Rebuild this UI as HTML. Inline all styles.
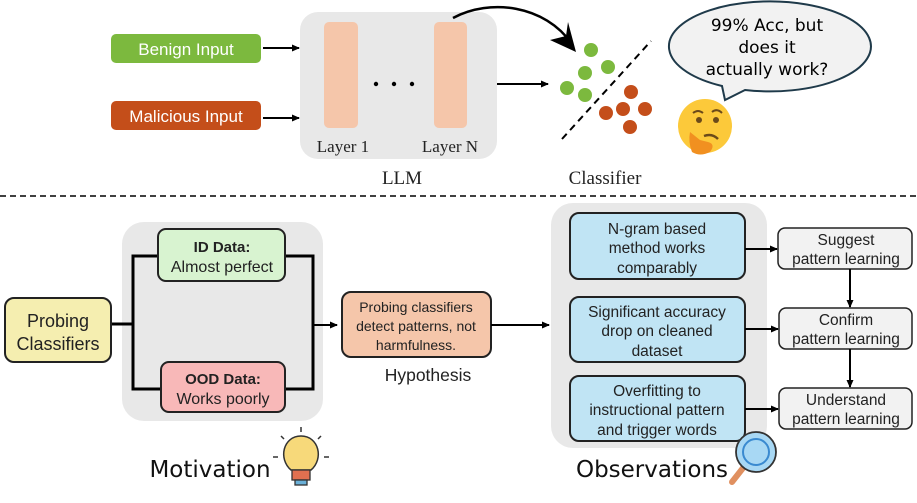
<!DOCTYPE html>
<html><head><meta charset="utf-8"><style>
html,body{margin:0;padding:0;background:#fff;}
svg{display:block;}
.s{font-family:"Liberation Sans",sans-serif;}
.r{font-family:"Liberation Serif",serif;}
.c{font-family:"DejaVu Sans",sans-serif;}
</style></head><body>
<svg width="917" height="503" viewBox="0 0 917 503" xmlns="http://www.w3.org/2000/svg">
<defs>
<marker id="a" markerWidth="8" markerHeight="8" refX="7" refY="4" orient="auto" markerUnits="userSpaceOnUse"><path d="M0,0.5 L8,4 L0,7.5 Z" fill="#000"/></marker>
</defs>
<!-- top -->
<rect x="111" y="34" width="150" height="29" rx="5" fill="#7cb93e"/>
<text x="186" y="55" class="s" font-size="17" fill="#fff" text-anchor="middle">Benign Input</text>
<rect x="111" y="101" width="150" height="29" rx="5" fill="#c44e1a"/>
<text x="186" y="122" class="s" font-size="17" fill="#fff" text-anchor="middle">Malicious Input</text>
<line x1="263" y1="48" x2="299" y2="48" stroke="#000" stroke-width="2" marker-end="url(#a)"/>
<line x1="263" y1="118" x2="299" y2="118" stroke="#000" stroke-width="2" marker-end="url(#a)"/>
<rect x="300" y="12" width="197" height="147" rx="18" fill="#e8e8e8"/>
<rect x="324" y="22" width="34" height="106" rx="5" fill="#f5c6aa"/>
<rect x="434" y="22" width="33" height="106" rx="5" fill="#f5c6aa"/>
<circle cx="376" cy="84" r="2.2" fill="#000"/><circle cx="394" cy="84" r="2.2" fill="#000"/><circle cx="412" cy="84" r="2.2" fill="#000"/>
<text x="343" y="152" class="r" font-size="17" text-anchor="middle" fill="#222">Layer 1</text>
<text x="450" y="152" class="r" font-size="17" text-anchor="middle" fill="#222">Layer N</text>
<text x="402" y="184" class="r" font-size="19" text-anchor="middle" fill="#222">LLM</text>
<path d="M453,18 C490,-2 545,5 572,44" fill="none" stroke="#000" stroke-width="2.5"/>
<path d="M576,52 L550,40 L566,36 L568,22 Z" fill="#000"/>
<line x1="497" y1="84" x2="548" y2="84" stroke="#000" stroke-width="2" marker-end="url(#a)"/>
<g fill="#7cb93e"><circle cx="591" cy="50" r="7"/><circle cx="608" cy="67" r="7"/><circle cx="585" cy="73" r="7"/><circle cx="567" cy="88" r="7"/><circle cx="585" cy="95" r="7"/></g>
<g fill="#c44e1a"><circle cx="631" cy="92" r="7"/><circle cx="623" cy="109" r="7"/><circle cx="606" cy="113" r="7"/><circle cx="645" cy="109" r="7"/><circle cx="630" cy="127" r="7"/></g>
<line x1="562" y1="139" x2="651" y2="41" stroke="#000" stroke-width="2" stroke-dasharray="7,5"/>
<text x="605" y="184" class="r" font-size="19" text-anchor="middle" fill="#222">Classifier</text>
<path d="M725,100 L722,86 A101,45 0 1 1 745,90 Z" fill="#f2f2f2" stroke="#1f3a4a" stroke-width="2"/>
<text x="767" y="31" class="c" font-size="17" text-anchor="middle">99% Acc, but</text>
<text x="767" y="53" class="c" font-size="17" text-anchor="middle">does it</text>
<text x="767" y="75" class="c" font-size="17" text-anchor="middle">actually work?</text>
<circle cx="705" cy="126" r="27" fill="#fcc93a"/>
<path d="M693,113 q5,-4 10,0 M712,112 q5,-4 10,1" stroke="#6b4a1a" stroke-width="2" fill="none"/>
<circle cx="699" cy="120" r="3" fill="#6b4a1a"/><circle cx="716" cy="120" r="3" fill="#6b4a1a"/>
<path d="M704,136 q8,-3 14,3" stroke="#6b4a1a" stroke-width="2.5" fill="none"/>
<path d="M690,132 q-2,10 2,20 q8,5 18,0 q6,-8 -2,-10 l-8,-2 z" fill="#f19020"/>
<line x1="0" y1="196" x2="917" y2="196" stroke="#000" stroke-width="1.5" stroke-dasharray="6,4"/>
<!-- bottom -->
<rect x="122" y="222" width="201" height="199" rx="22" fill="#e8e8e8"/>
<polyline points="111,324 133,324" stroke="#000" stroke-width="3" fill="none"/>
<polyline points="158,256 133,256 133,389 161,389" stroke="#000" stroke-width="3" fill="none"/>
<polyline points="285,256 313,256 313,389 285,389" stroke="#000" stroke-width="3" fill="none"/>
<line x1="313" y1="325" x2="337" y2="325" stroke="#000" stroke-width="2" marker-end="url(#a)"/>
<rect x="5" y="298" width="106" height="64" rx="9" fill="#f5eeb0" stroke="#222" stroke-width="2"/>
<text x="58" y="327" class="s" font-size="18" text-anchor="middle" fill="#222">Probing</text>
<text x="58" y="350" class="s" font-size="18" text-anchor="middle" fill="#222">Classifiers</text>
<rect x="158" y="229" width="127" height="52" rx="8" fill="#d8f3d0" stroke="#222" stroke-width="2"/>
<text x="222" y="252" class="s" font-size="15" font-weight="bold" text-anchor="middle" fill="#222">ID Data:</text>
<text x="222" y="272" class="s" font-size="16" text-anchor="middle" fill="#222">Almost perfect</text>
<rect x="161" y="362" width="124" height="50" rx="8" fill="#f8b8b8" stroke="#222" stroke-width="2"/>
<text x="223" y="384" class="s" font-size="15" font-weight="bold" text-anchor="middle" fill="#222">OOD Data:</text>
<text x="223" y="404" class="s" font-size="16" text-anchor="middle" fill="#222">Works poorly</text>
<rect x="342" y="292" width="149" height="65" rx="9" fill="#f5c6aa" stroke="#222" stroke-width="2"/>
<text x="416" y="312" class="s" font-size="14" text-anchor="middle" fill="#222">Probing classifiers</text>
<text x="416" y="331" class="s" font-size="14" text-anchor="middle" fill="#222">detect patterns, not</text>
<text x="416" y="350" class="s" font-size="14" text-anchor="middle" fill="#222">harmfulness.</text>
<text x="428" y="381" class="s" font-size="17.5" text-anchor="middle" fill="#222">Hypothesis</text>
<line x1="491" y1="325" x2="549" y2="325" stroke="#000" stroke-width="2" marker-end="url(#a)"/>
<rect x="551" y="203" width="216" height="245" rx="22" fill="#e8e8e8"/>
<g stroke="#222" stroke-width="2" fill="#c0e4f4">
<rect x="570" y="213" width="175" height="66" rx="9"/>
<rect x="570" y="297" width="175" height="65" rx="9"/>
<rect x="570" y="376" width="175" height="65" rx="9"/>
</g>
<g class="s" font-size="15.5" text-anchor="middle" fill="#222">
<text x="657" y="234">N-gram based</text><text x="657" y="253">method works</text><text x="657" y="273">comparably</text>
<text x="657" y="317">Significant accuracy</text><text x="657" y="336">drop on cleaned</text><text x="657" y="356">dataset</text>
<text x="657" y="396">Overfitting to</text><text x="657" y="415">instructional pattern</text><text x="657" y="435">and trigger words</text>
</g>
<g stroke="#222" stroke-width="1.5" fill="#f2f2f2">
<rect x="778" y="228" width="134" height="41" rx="7"/>
<rect x="779" y="308" width="133" height="41" rx="7"/>
<rect x="779" y="388" width="133" height="41" rx="7"/>
</g>
<g class="s" font-size="15.5" text-anchor="middle" fill="#222">
<text x="846" y="245">Suggest</text><text x="846" y="264">pattern learning</text>
<text x="846" y="325">Confirm</text><text x="846" y="344">pattern learning</text>
<text x="846" y="405">Understand</text><text x="846" y="424">pattern learning</text>
</g>
<g stroke="#000" stroke-width="2">
<line x1="745" y1="249" x2="777" y2="249" marker-end="url(#a)"/>
<line x1="745" y1="329" x2="778" y2="329" marker-end="url(#a)"/>
<line x1="745" y1="409" x2="778" y2="409" marker-end="url(#a)"/>
<line x1="850" y1="269" x2="850" y2="307" marker-end="url(#a)"/>
<line x1="850" y1="349" x2="850" y2="387" marker-end="url(#a)"/>
</g>
<text x="210" y="477" class="c" font-size="23" text-anchor="middle" fill="#111">Motivation</text>
<g transform="translate(301,457)">
<g stroke="#333" stroke-width="1.5"><line x1="0" y1="-30" x2="0" y2="-25"/><line x1="-20" y1="-21" x2="-17" y2="-18"/><line x1="20" y1="-21" x2="17" y2="-18"/><line x1="-28" y1="0" x2="-23" y2="0"/><line x1="28" y1="0" x2="23" y2="0"/></g>
<path d="M-10,13 C-23,2 -18,-21 0,-21 C18,-21 23,2 10,13 Z" fill="#f7d97a" stroke="#333" stroke-width="1.5"/>
<rect x="-9" y="13" width="18" height="10" fill="#e07050" stroke="#333" stroke-width="1.3"/>
<rect x="-6" y="23" width="12" height="5" fill="#6ab0d8" stroke="#333" stroke-width="1.3"/>
</g>
<text x="652" y="477" class="c" font-size="23" text-anchor="middle" fill="#111">Observations</text>
<g transform="translate(756,454)">
<line x1="-13" y1="14" x2="-24" y2="28" stroke="#e09060" stroke-width="6" stroke-linecap="round"/>
<circle cx="0" cy="-2" r="20" fill="#a8d8f4" stroke="#333" stroke-width="1.8"/>
<circle cx="0" cy="-2" r="13" fill="none" stroke="#3a8ad0" stroke-width="2"/>
</g>
</svg>
</body></html>
